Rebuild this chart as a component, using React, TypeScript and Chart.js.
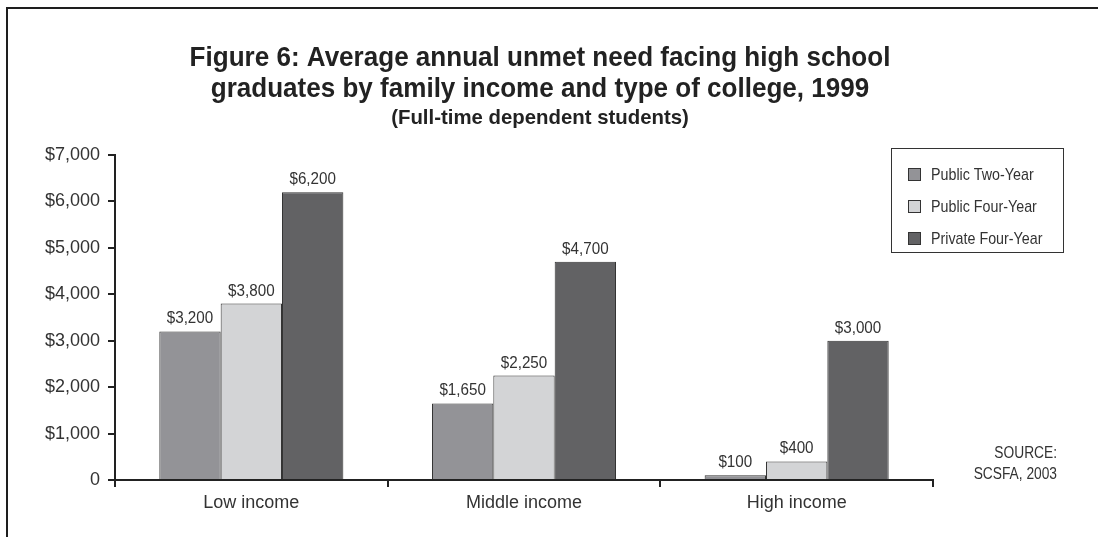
import React, { useEffect, useRef } from "react";
import { Chart, registerables } from "chart.js";

Chart.register(...registerables);

const categories = ["Low income", "Middle income", "High income"];
const publicTwoYear = [3200, 1650, 100];
const publicFourYear = [3800, 2250, 400];
const privateFourYear = [6200, 4700, 3000];
const seriesNames = ["Public Two-Year", "Public Four-Year", "Private Four-Year"];
const seriesColors = ["#939397", "#d3d4d6", "#626264"];
const titleLines = [
  "Figure 6: Average annual unmet need facing high school",
  "graduates by family income and type of college, 1999",
];
const subtitleText = "(Full-time dependent students)";
const sourceLines = ["SOURCE:", "SCSFA, 2003"];

const FONT = "'Liberation Sans', Arial, sans-serif";
const TEXT = "#333333";

const money = (v: number) => "$" + v.toLocaleString("en-US");

function scaledText(ctx: CanvasRenderingContext2D, text: string, x: number, y: number, sx: number) {
  ctx.save();
  ctx.translate(x, y);
  ctx.scale(sx, 1);
  ctx.fillText(text, 0, 0);
  ctx.restore();
}

const decorPlugin = {
  id: "decor",
  afterDraw(chart: any) {
    const ctx = chart.ctx as CanvasRenderingContext2D;
    ctx.save();
    // frame
    ctx.strokeStyle = "#1e1e1e";
    ctx.lineWidth = 2;
    ctx.beginPath();
    ctx.moveTo(7, 537);
    ctx.lineTo(7, 8);
    ctx.lineTo(1098, 8);
    ctx.stroke();

    // titles
    ctx.fillStyle = "#222";
    ctx.textAlign = "center";
    ctx.textBaseline = "alphabetic";
    ctx.font = `bold 28px ${FONT}`;
    scaledText(ctx, titleLines[0], 540, 66, 0.93);
    scaledText(ctx, titleLines[1], 540, 97, 0.93);
    ctx.font = `bold 21px ${FONT}`;
    scaledText(ctx, subtitleText, 540, 124, 0.97);

    // value labels
    ctx.font = `16px ${FONT}`;
    ctx.fillStyle = TEXT;
    ctx.textBaseline = "alphabetic";
    chart.data.datasets.forEach((ds: any, di: number) => {
      const meta = chart.getDatasetMeta(di);
      meta.data.forEach((bar: any, i: number) => {
        scaledText(ctx, money(ds.data[i]), bar.x, bar.y - 8, 0.95);
      });
    });

    // legend
    ctx.strokeStyle = "#333";
    ctx.lineWidth = 1;
    ctx.strokeRect(891.5, 148.5, 172, 104);
    ctx.textAlign = "left";
    ctx.textBaseline = "middle";
    ctx.font = `17px ${FONT}`;
    chart.data.datasets.forEach((ds: any, di: number) => {
      const cy = 174 + di * 32;
      ctx.fillStyle = ds.backgroundColor;
      ctx.fillRect(908, cy - 6, 13, 13);
      ctx.strokeStyle = "#333";
      ctx.strokeRect(908.5, cy - 5.5, 12, 12);
      ctx.fillStyle = TEXT;
      scaledText(ctx, ds.label, 931, cy + 1, 0.84);
    });

    // source
    ctx.textAlign = "right";
    ctx.textBaseline = "alphabetic";
    ctx.font = `16px ${FONT}`;
    scaledText(ctx, sourceLines[0], 1057, 458, 0.86);
    scaledText(ctx, sourceLines[1], 1057, 479, 0.86);
    ctx.restore();
  },
};

export default function App() {
  const ref = useRef<HTMLCanvasElement>(null);
  useEffect(() => {
    if (!ref.current) return;
    const series = [publicTwoYear, publicFourYear, privateFourYear];
    const chart = new Chart(ref.current, {
      type: "bar",
      data: {
        labels: categories,
        datasets: series.map((d, i) => ({
          label: seriesNames[i],
          data: d,
          backgroundColor: seriesColors[i],
          borderColor: "#333",
          borderWidth: 1,
          categoryPercentage: 0.675,
          barPercentage: 1,
        })),
      },
      options: {
        animation: false,
        responsive: false,
        maintainAspectRatio: false,
        layout: { padding: { top: 155, left: 15, right: 165, bottom: 17 } },
        plugins: {
          legend: { display: false },
          title: { display: false },
          tooltip: { enabled: false },
        },
        scales: {
          x: {
            afterFit: (s: any) => {
              s.height = 40;
            },
            grid: {
              display: true,
              drawOnChartArea: false,
              offset: true,
              tickLength: 7,
              color: "#222",
              lineWidth: 2,
            },
            border: { display: true, color: "#222", width: 2 },
            ticks: {
              color: TEXT,
              font: { family: FONT, size: 18 },
              padding: 5,
            },
          },
          y: {
            min: 0,
            max: 7000,
            afterFit: (s: any) => {
              s.width = 100;
            },
            grid: {
              display: true,
              drawOnChartArea: false,
              tickLength: 7,
              color: "#222",
              lineWidth: 2,
            },
            border: { display: true, color: "#222", width: 2 },
            ticks: {
              stepSize: 1000,
              color: TEXT,
              font: { family: FONT, size: 18 },
              padding: 8,
              callback: (v: any) => (Number(v) === 0 ? "0" : money(Number(v))),
            },
          },
        },
      },
      plugins: [decorPlugin],
    });
    return () => chart.destroy();
  }, []);
  return (
    <div
      style={{
        position: "fixed",
        left: 0,
        top: 0,
        width: 1098,
        height: 537,
        background: "#fff",
      }}
    >
      <canvas ref={ref} width={1098} height={537} style={{ width: 1098, height: 537 }} />
    </div>
  );
}
